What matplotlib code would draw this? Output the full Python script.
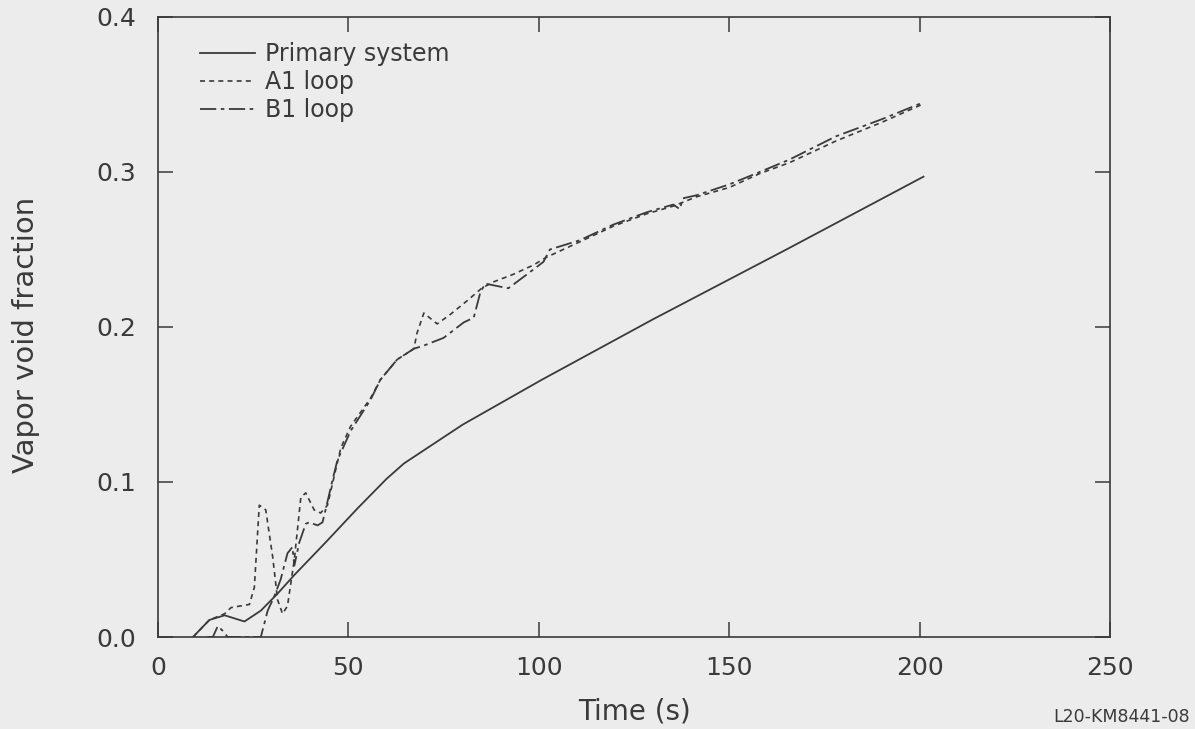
import matplotlib
matplotlib.use("Agg")
import matplotlib.pyplot as plt

# Primary system (solid)
primary_t = [9.2, 13.5, 17.5, 22.7, 27, 31.4, 35.8, 44, 52.4, 60, 64.6, 80, 100.8, 130, 165, 201]
primary_v = [0, 0.011, 0.014, 0.010, 0.017, 0.028, 0.040, 0.061, 0.083, 0.102, 0.112, 0.137,
             0.166, 0.205, 0.250, 0.297]

# A1 loop (dashed)
a1_t = [9.2, 13.5, 17.5, 19.2, 24, 25.3, 26.6, 28.3, 30.1, 31.4, 32.7, 34, 35.8, 37.5, 38.8,
        41, 42.7, 44.5, 46.2, 48, 50.6, 55.8, 58.4, 62.8, 67.2, 68, 69.8, 73.3, 76.7, 81.2,
        85, 88, 93.3, 98.6, 102, 110.8, 119.5, 128.3, 135.3, 141.4, 150, 158, 165.8, 178,
        190, 201]
a1_v = [0, 0.011, 0.015, 0.019, 0.021, 0.032, 0.085, 0.082, 0.052, 0.024, 0.015, 0.020, 0.050,
        0.090, 0.093, 0.082, 0.080, 0.085, 0.103, 0.122, 0.136, 0.154, 0.166, 0.179, 0.186,
        0.196, 0.209, 0.202, 0.208, 0.217, 0.225, 0.229, 0.234, 0.240, 0.245, 0.255, 0.265,
        0.273, 0.278, 0.284, 0.290, 0.299, 0.306, 0.320, 0.332, 0.344]

# B1 loop (dash-dot)
b1_t = [13, 14.4, 15.7, 17, 18.3, 27, 28.8, 30.5, 32.2, 34, 35.3, 35.8, 37.1, 38.8, 39.7, 41.9,
        43.2, 44, 45.8, 47.1, 50.6, 55.8, 58.4, 62.8, 67.2, 69.8, 75, 80.3, 82.9, 84.6, 85.9,
        89.9, 92, 96.9, 101.2, 102.9, 110.8, 119.5, 128.3, 135.3, 137, 137.8, 141.4, 150, 158,
        165.8, 178, 190, 201]
b1_v = [0, 0, 0.007, 0.004, 0, 0, 0.017, 0.026, 0.037, 0.054, 0.058, 0.046, 0.061, 0.073, 0.074,
        0.072, 0.074, 0.082, 0.101, 0.114, 0.133, 0.153, 0.166, 0.179, 0.186, 0.188, 0.193,
        0.203, 0.206, 0.222, 0.228, 0.226, 0.225, 0.234, 0.242, 0.250, 0.256, 0.266, 0.274,
        0.279, 0.276, 0.283, 0.285, 0.292, 0.300, 0.308, 0.323, 0.334, 0.345]

xticks = [0, 50, 100, 150, 200, 250]
yticks = [0.0, 0.1, 0.2, 0.3, 0.4]

bg = "#ececec"
ink = "#3a3a3a"

fig = plt.figure(figsize=(11.95, 7.29), dpi=100, facecolor=bg)
ax = fig.add_axes([0.1322, 0.1262, 0.7968, 0.8505], facecolor=bg)

ax.plot(primary_t, primary_v, color=ink, lw=1.3, label="Primary system")
ax.plot(a1_t, a1_v, color=ink, lw=1.2, ls=(0, (3, 2.5)), label="A1 loop")
ax.plot(b1_t, b1_v, color=ink, lw=1.3, ls=(0, (9, 2.5, 2, 2.5)), label="B1 loop")

ax.set_xlim(0, 250)
ax.set_ylim(0, 0.4)
ax.set_xticks(xticks)
ax.set_yticks(yticks)
ax.set_xticklabels([str(t) for t in xticks])
ax.set_yticklabels(["%.1f" % t for t in yticks])
ax.tick_params(direction="in", length=10.5, width=1.1, color=ink, labelcolor=ink,
               labelsize=18, top=True, right=True)
ax.tick_params(axis="x", pad=14)
ax.tick_params(axis="y", pad=16)
for s in ax.spines.values():
    s.set_color(ink)
    s.set_linewidth(1.2)

ax.set_xlabel("Time (s)", fontsize=20, color=ink)
ax.xaxis.set_label_coords(0.5, -0.098)
ax.set_ylabel("Vapor void fraction", fontsize=21, color=ink)
ax.yaxis.set_label_coords(-0.124, 0.487)

ax.legend(loc="upper left", bbox_to_anchor=(0.044, 0.96), frameon=False, fontsize=17,
          borderpad=0, borderaxespad=0, handlelength=2.33, handletextpad=0.42,
          labelspacing=0.18, labelcolor=ink)

fig.text(0.996, 0.004, "L20-KM8441-08", fontsize=12.5, color=ink, ha="right", va="bottom")

fig.savefig("out.png", dpi=100, facecolor=bg)
